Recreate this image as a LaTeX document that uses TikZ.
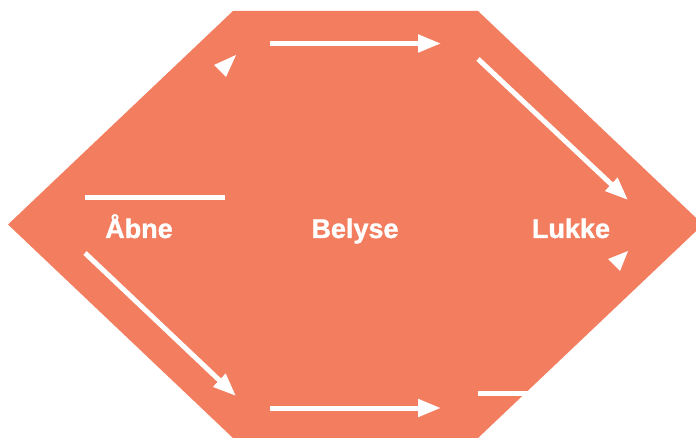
\documentclass[tikz,border=0pt]{standalone}
\usepackage{fontspec}
\setmainfont{Liberation Sans}
\newfontfamily\labelfont[FakeBold=1.2]{Liberation Sans Bold}
\usetikzlibrary{arrows.meta}
\definecolor{salmon}{RGB}{242,125,95}
\tikzset{
  flow/.style={draw=white, line width=5pt,
    -{Triangle[length=23pt,width=17pt]}},
  bar/.style={draw=white, line width=5pt},
  stage/.style={text=white, font=\labelfont\fontsize{27}{31}\selectfont,
    anchor=base, inner sep=0pt},
  loosehead/.style={fill=white, draw=none}
}
\begin{document}
\begin{tikzpicture}[x=1pt, y=-1pt]
  \useasboundingbox (0,0) rectangle (696,438);
  \begin{scope}
    \clip (0,0) rectangle (696,438);
    % hexagonal backdrop
    \fill[salmon] (8,224.5) -- (233,11) -- (478,11) -- (703,224.5)
      -- (478,438) -- (233,438) -- cycle;
  \end{scope}

  % stage labels
  \node[stage] (open)  at (139,238) {Åbne};
  \node[stage] (light) at (355,238) {Belyse};
  \node[stage] (close) at (571,238) {Lukke};

  % arrow end points
  \coordinate (topA) at (270,43.5);
  \coordinate (topB) at (441,43.5);
  \coordinate (diagA) at (478,59);
  \coordinate (diagB) at (628,200);
  \coordinate (lowA) at (85,253);
  \coordinate (lowB) at (236,396);
  \coordinate (botA) at (270,408);
  \coordinate (botB) at (441,408);

  \draw[flow] (topA) -- (topB);
  \draw[flow] (diagA) -- (diagB);
  \draw[flow] (lowA) -- (lowB);
  \draw[flow] (botA) -- (botB);

  % straight bars
  \coordinate (barA) at (85,198);
  \coordinate (barB) at (225,198);
  \draw[bar] (barA) -- (barB);
  \coordinate (stubA) at (478,393);
  \coordinate (stubB) at (528,393);
  \draw[bar] (stubA) -- (stubB);

  % lone arrow heads
  \fill[loosehead] (214,65) -- (236,55) -- (226,77) -- cycle;
  \fill[loosehead] (608,259) -- (628,251) -- (620,271) -- cycle;
\end{tikzpicture}
\end{document}
